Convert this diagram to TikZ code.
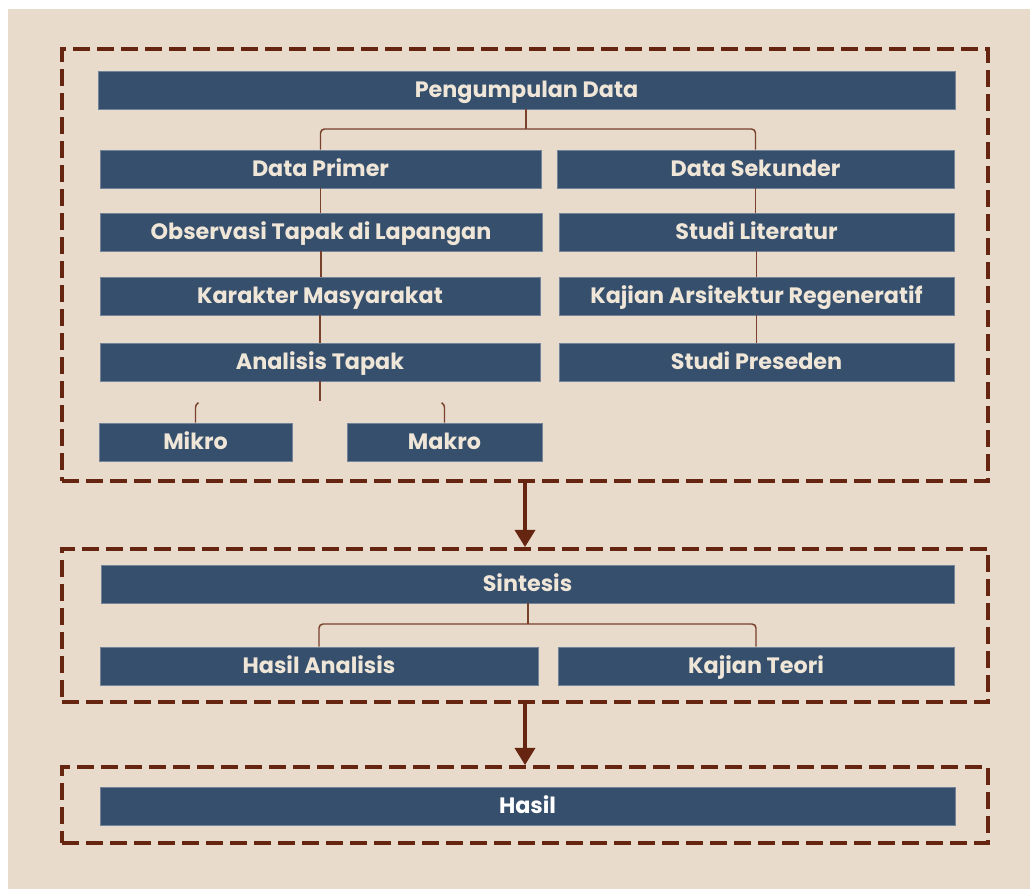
\documentclass[tikz,border=0pt]{standalone}
\usepackage{fontspec}
\setmainfont{Poppins}
\usepackage{xcolor}
\usetikzlibrary{positioning,calc,arrows.meta}

\definecolor{paper}{HTML}{E8DBCB}
\definecolor{navy}{HTML}{354F6D}
\definecolor{rust}{HTML}{652510}
\definecolor{cream}{HTML}{EFE6D8}

\begin{document}
\begin{tikzpicture}[x=0.75pt,y=-0.75pt,
    box/.style={fill=navy, draw=navy!70!white, line width=0.4pt, text=cream,
      font=\bfseries\fontsize{16.7}{19}\selectfont,
      text height=11.6pt, text depth=0pt,
      minimum height=28.5pt, inner sep=0pt},
    frame/.style={draw=rust, line width=2.8pt, dash pattern=on 13pt off 5pt},
    link/.style={draw=rust!85!paper, line width=1.1pt},
    flow/.style={draw=rust, line width=3pt, -{Triangle[width=15pt,length=13pt]}}]

    % Background
    \fill[white] (0,0) rectangle (1030,889);
    \fill[paper] (8,9) rectangle (1030,889);

    % Frames
    \node[frame, minimum width=694.5pt, minimum height=324pt] (f1) at (525,265) {};
    \node[frame, minimum width=694.5pt, minimum height=114.75pt] (f2) at (525,625.5) {};
    \node[frame, minimum width=694.5pt, minimum height=57pt] (f3) at (525,805) {};

    % Pengumpulan data
    \node[box, minimum width=642.75pt] (pd) at (526.5,90) {Pengumpulan Data};
    \node[box, minimum width=330.75pt] (dp) at (320.5,169) {Data Primer};
    \node[box, minimum width=297.75pt] (ds) at (755.5,169) {Data Sekunder};

    \node[box, minimum width=331.5pt] (ob) at (321,232) {Observasi Tapak di Lapangan};
    \node[box, minimum width=330pt] (km) at (320,296) {Karakter Masyarakat};
    \node[box, minimum width=330pt] (at) at (320,362) {Analisis Tapak};

    \node[box, minimum width=296.25pt] (sl) at (756.5,232) {Studi Literatur};
    \node[box, minimum width=296.25pt] (ka) at (756.5,296) {Kajian Arsitektur Regeneratif};
    \node[box, minimum width=296.25pt] (sp) at (756.5,362) {Studi Preseden};

    \node[box, minimum width=144.75pt] (mi) at (195.5,442) {Mikro};
    \node[box, minimum width=146.25pt] (ma) at (444.5,442) {Makro};

    % Sintesis
    \node[box, minimum width=639.75pt] (si) at (527.5,584) {Sintesis};
    \node[box, minimum width=328.5pt] (ha) at (319,666) {Hasil Analisis};
    \node[box, minimum width=297pt] (kt) at (756,666) {Kajian Teori};

    % Hasil
    \node[box, minimum width=641.25pt, text=white] (hs) at (527.5,806) {Hasil};

    % Braces
    \coordinate (b1) at (526,129);
    \draw[link, rounded corners=3pt] (dp.north) |- (b1) -| (ds.north);
    \draw[link] (pd.south -| b1) -- (b1);

    \coordinate (b2) at (528,624);
    \draw[link, rounded corners=3pt] (ha.north) |- (b2) -| (kt.north);
    \draw[link] (si.south -| b2) -- (b2);

    \coordinate (b3) at (320,401);
    \draw[link] (at.south) -- (b3);
    \draw[link, rounded corners=2pt] (mi.north) -- ++(0,-18) -- ++(3,-2);
    \draw[link, rounded corners=2pt] (ma.north) -- ++(0,-18) -- ++(-3,-2);

    % Columns
    \foreach \a/\b in {dp/ob, ob/km, km/at, ds/sl, sl/ka, ka/sp}
    \draw[link] (\a.south) -- (\a.south |- \b.north);

    % Flow
    \draw[flow] (f1.south) -- (f2.north);
    \draw[flow] (f2.south) -- (f3.north);
\end{tikzpicture}
\end{document}
